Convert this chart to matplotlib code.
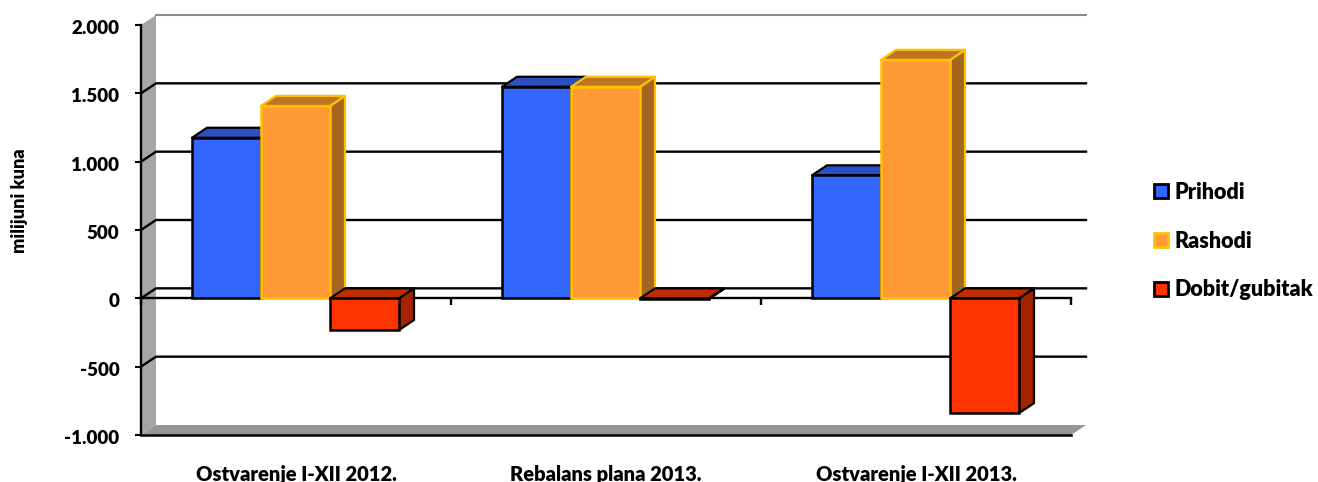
import matplotlib
matplotlib.use("Agg")
import matplotlib.pyplot as plt
from matplotlib.patches import Polygon, Patch
from matplotlib.transforms import ScaledTranslation

plt.rcParams['font.family'] = ['Lato', 'DejaVu Sans']
plt.rcParams['font.weight'] = 'heavy'

# podaci
kategorije = ["Ostvarenje I-XII 2012.", "Rebalans plana 2013.", "Ostvarenje I-XII 2013."]
prihodi = [1175, 1548, 900]
rashodi = [1408, 1548, 1745]
dobit = [-232, -4, -840]
y_oznake = ["-1.000", "-500", "0", "500", "1.000", "1.500", "2.000"]
y_vrijednosti = [-1000, -500, 0, 500, 1000, 1500, 2000]

fig = plt.figure(figsize=(13.18, 4.82), dpi=100)
ax = fig.add_axes([141 / 1318, 47 / 482, 930 / 1318, 410 / 482])
ax.set_xlim(0, 3)
ax.set_ylim(-1000, 2000)

# dubina 3D efekta, u jedinicama osi
dx = 15 / 310
dy = 10 / 0.13667
sirina = 69 / 310


def poly(tocke, boja, rub='none', lw=0, z=1):
    ax.add_patch(Polygon(tocke, closed=True, facecolor=boja, edgecolor=rub, linewidth=lw,
                         joinstyle='round', clip_on=False, zorder=z))


# lijevi zid i pod
poly([(0, -1000), (dx, -1000 + dy), (dx, 2000 + dy), (0, 2000)], '#A6A6A6', z=1)
poly([(0, -1000), (3, -1000), (3 + dx, -1000 + dy), (dx, -1000 + dy)], '#969696', z=1)
ax.plot([dx, 3 + dx], [2000 + dy, 2000 + dy], color='#8C8C8C', lw=1.5, clip_on=False, zorder=1)

# linije mreze na straznjem zidu
for v in y_vrijednosti[1:-1]:
    ax.plot([0, dx, 3 + dx], [v, v + dy, v + dy], color='black', lw=1.7, clip_on=False, zorder=2)

serije = [
    (prihodi, '#3366FF', 'black', '#2A50C4', '#21409C', -1),
    (rashodi, '#FF9933', '#FFC000', '#BD7424', '#A5641F', 0),
    (dobit, '#FF3300', 'black', '#C22B00', '#A62300', 1),
]

z = 3
for i in range(3):
    for vrijednosti, boja, rub, gornja, bocna, pomak in serije:
        v = vrijednosti[i]
        x0 = i + 0.5 + pomak * sirina - sirina / 2 - 0.5 / 310
        x1 = x0 + sirina
        vrh = max(v, 0)
        dno = min(v, 0)
        poly([(x1, dno), (x1 + dx, dno + dy), (x1 + dx, vrh + dy), (x1, vrh)], bocna, rub, 1.6, z)
        poly([(x0, vrh), (x0 + dx, vrh + dy), (x1 + dx, vrh + dy), (x1, vrh)], gornja, rub, 1.6, z)
        ax.bar(x0, vrh - dno, width=sirina, bottom=dno, align='edge', color=boja, edgecolor=rub,
               linewidth=1.8, zorder=z + 0.5)
        z += 1

# osi
for s in ['top', 'right']:
    ax.spines[s].set_visible(False)
ax.spines['left'].set_linewidth(1.7)
ax.spines['bottom'].set_position(('data', 0))
ax.spines['bottom'].set_linewidth(1.7)
ax.spines['bottom'].set_zorder(2.5)
ax.spines['left'].set_zorder(2.5)
ax.plot([0, 3], [-1000, -1000], color='black', lw=1.8, clip_on=False, zorder=2.5)
ax.set_yticks(y_vrijednosti)
ax.set_yticklabels(y_oznake, fontsize=13.5, fontweight='heavy')
ax.tick_params(axis='y', length=4.5, width=1.5, pad=11)
# oznake malo nize, kao na originalu
pomak_oznaka = ScaledTranslation(0, -1.5 / 72, fig.dpi_scale_trans)
for oznaka in ax.get_yticklabels():
    oznaka.set_transform(oznaka.get_transform() + pomak_oznaka)
ax.set_xticks([0, 1, 2, 3])
ax.set_xticklabels([])
ax.tick_params(axis='x', length=5, width=1.7, direction='out')
ax.patch.set_visible(False)

for i, naziv in enumerate(kategorije):
    ax.annotate(naziv, (i + 0.5, -1000), xytext=(0, -21.5), textcoords='offset points',
                ha='center', va='top', fontsize=14.5, fontweight='heavy', annotation_clip=False)

fig.text(20 / 1318, 1 - 201 / 482, "milijuni kuna", rotation=90, ha='center', va='center',
         fontsize=13, fontweight='heavy')

# legenda
rucke = [Patch(facecolor=s[1], edgecolor=s[2], linewidth=2, label=n)
         for s, n in zip(serije, ["Prihodi", "Rashodi", "Dobit/gubitak"])]
fig.legend(handles=rucke, loc='center left', bbox_to_anchor=(1135 / 1318, 1 - 241 / 482), frameon=False,
           prop={'size': 15.5, 'weight': 'heavy'}, handlelength=0.65, handleheight=0.65,
           handletextpad=0.3, labelspacing=1.3)

fig.savefig("out.png", dpi=100)
